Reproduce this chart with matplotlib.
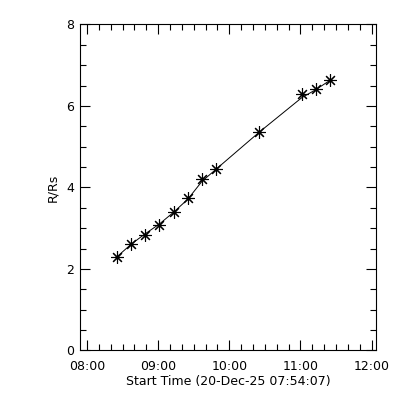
import datetime as dt
import matplotlib
matplotlib.use('Agg')
import matplotlib.pyplot as plt
import matplotlib.dates as mdates
from matplotlib.ticker import MultipleLocator

# height-time points
times = ['08:25', '08:37', '08:49', '09:01', '09:13', '09:25',
         '09:37', '09:49', '10:25', '11:01', '11:13', '11:25']
r_rs = [2.29, 2.62, 2.82, 3.07, 3.39, 3.73, 4.20, 4.45, 5.35, 6.28, 6.42, 6.63]
# fitted curve values at the same times
fit_r = [2.29, 2.60, 2.86, 3.10, 3.39, 3.71, 4.15, 4.45, 5.35, 6.20, 6.40, 6.63]

start = '07:54:07'
end = '12:03:40'
day = dt.date(2025, 12, 20)
xlabel = 'Start Time (20-Dec-25 07:54:07)'
ylabel = 'R/Rs'


def tm(s):
    fmt = '%H:%M:%S' if s.count(':') == 2 else '%H:%M'
    return dt.datetime.combine(day, dt.datetime.strptime(s, fmt).time())


t = [tm(s) for s in times]

plt.rcParams['font.family'] = 'DejaVu Sans'
fig = plt.figure(figsize=(4, 4), dpi=100)
ax = fig.add_axes([0.2, 0.124, 0.74, 0.815])

ax.plot(t, fit_r, color='k', lw=0.7)
ax.plot(t, r_rs, linestyle='none', marker=(8, 2, 0), ms=9, mew=0.8, color='k')

ax.set_xlim(tm(start), tm(end))
ax.set_ylim(0, 8)

ax.xaxis.set_major_locator(mdates.HourLocator())
ax.xaxis.set_minor_locator(mdates.MinuteLocator(byminute=range(0, 60, 10)))
ax.xaxis.set_major_formatter(mdates.DateFormatter('%H:%M'))
ax.yaxis.set_major_locator(MultipleLocator(2))
ax.yaxis.set_minor_locator(MultipleLocator(0.5))

ax.tick_params(which='both', direction='in', top=True, right=True,
               width=0.8, labelsize=9, colors='k')
ax.tick_params(which='major', length=7)
ax.tick_params(which='minor', length=4)
ax.tick_params(axis='x', pad=7)
ax.tick_params(axis='y', pad=4)
for sp in ax.spines.values():
    sp.set_linewidth(0.8)

ax.set_xlabel(xlabel, fontsize=9, labelpad=1)
ax.set_ylabel(ylabel, fontsize=9, labelpad=5)

fig.savefig('out.png', dpi=100)
